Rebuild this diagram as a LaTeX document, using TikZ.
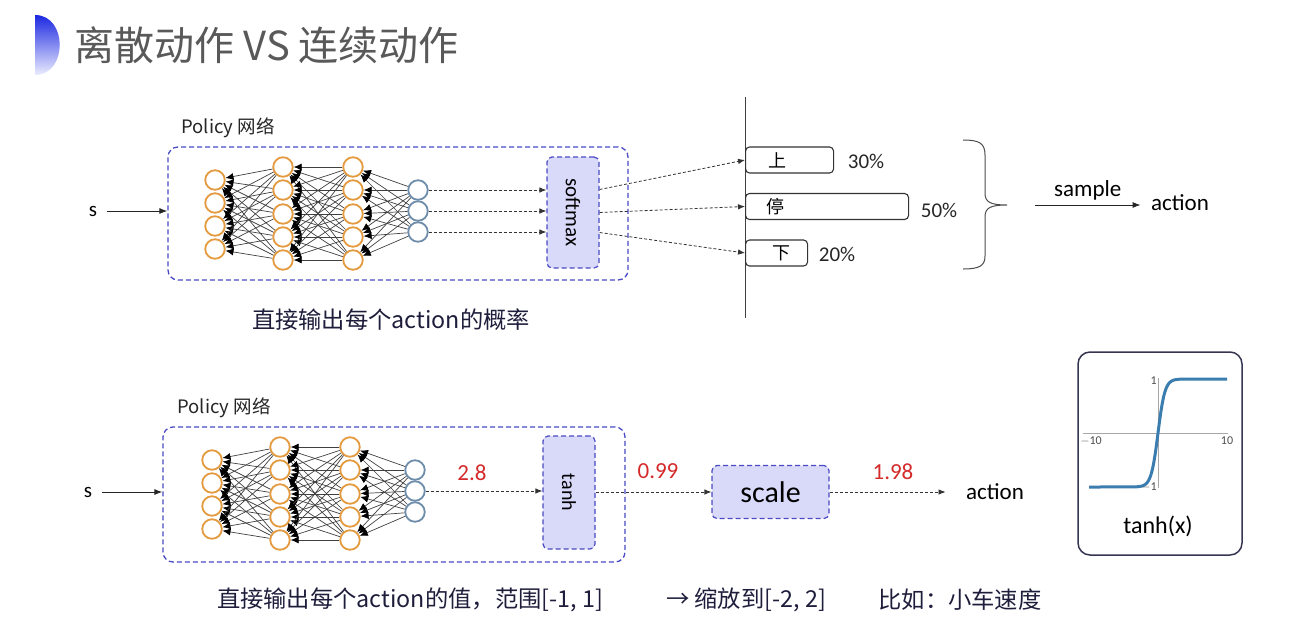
\documentclass[tikz,border=0pt]{standalone}
\usepackage{fontspec}
\setmainfont{Carlito}
\newfontfamily\cjk{Noto Sans CJK SC}
\usetikzlibrary{arrows.meta}
\definecolor{onode}{HTML}{E49A3E}
\definecolor{bnode}{HTML}{6E8DAB}
\definecolor{dashblue}{HTML}{4A4AC4}
\definecolor{lav}{HTML}{D9D9FA}
\definecolor{redval}{HTML}{D42A2A}
\definecolor{navy}{HTML}{1E1E3C}
\definecolor{tcurve}{HTML}{3A7DAE}
\newcommand\mynet{%
  \foreach \i/\y in {1/180,2/203,3/226,4/249} \node[onodest] (a\i) at (215,\y) {};
  \foreach \i/\y in {1/167,2/190,3/214,4/237,5/260} {
    \node[onodest] (b\i) at (283,\y) {};
    \node[onodest] (c\i) at (353,\y) {};
  }
  \foreach \i/\y in {1/190,2/211,3/232} \node[bnodest] (d\i) at (418,\y) {};
  \foreach \i in {1,...,4} \foreach \j in {1,...,5} \draw[netedge] (b\j) -- (a\i);
  \foreach \i in {1,...,5} \foreach \j in {1,...,5} \draw[netedge] (c\j) -- (b\i);
  \foreach \i in {1,...,5} \foreach \j in {1,...,3} \draw[netedge] (d\j) -- (c\i);
}
\begin{document}
\begin{tikzpicture}[x=1pt,y=-1pt,
  onodest/.style={circle,draw=onode,line width=1.8pt,fill=white,minimum size=19.5pt,inner sep=0pt},
  bnodest/.style={circle,draw=bnode,line width=1.8pt,fill=white,minimum size=19.5pt,inner sep=0pt},
  netedge/.style={draw=black!75,line width=0.7pt,-{Latex[length=8pt,width=7pt,black]}},
  dbox/.style={draw=dashblue,dash pattern=on 5pt off 3pt,line width=1.3pt,rounded corners=10pt,inner sep=0pt},
  sbox/.style={draw=dashblue,dash pattern=on 5pt off 3pt,line width=1.2pt,rounded corners=5pt,fill=lav,inner sep=0pt},
  darr/.style={draw=black!80,line width=0.8pt,densely dashed,-{Latex[length=7pt,width=5.5pt]}},
  sarr/.style={draw=black!85,line width=0.9pt,-{Latex[length=8pt,width=6pt]}},
  barbox/.style={draw=black!80,line width=1.1pt,rounded corners=4pt,inner sep=0pt,anchor=west,minimum height=26pt},
  captxt/.style={font=\cjk\fontsize{23.3}{26}\selectfont,text=navy},
  lattxt/.style={font=\fontsize{23}{26}\selectfont},
  pcttxt/.style={font=\fontsize{21}{24}\selectfont,text=black!85},
  redtxt/.style={font=\fontsize{23}{26}\selectfont,text=redval},
  poltxt/.style={font=\cjk\fontsize{18.5}{22}\selectfont,text=black!85},
  ticktxt/.style={font=\fontsize{12}{13}\selectfont,text=black!70}
]
\useasboundingbox (0,0) rectangle (1305,643);

% title
\shade[top color={rgb,255:red,28;green,40;blue,225},bottom color={rgb,255:red,235;green,236;blue,255}]
  (35,15) .. controls (68,15) and (68,75) .. (35,75) -- cycle;
\node[anchor=west,font=\cjk\fontsize{40}{44}\selectfont,text=black!65] (title) at (71,45) {离散动作 VS 连续动作};

% ===== top part =====
\node[poltxt] (pol1) at (228,128) {Policy 网络};
\node[dbox,minimum width=460pt,minimum height=133pt] (box1) at (398,213.5) {};
\begin{scope}[name prefix=t-]
\mynet
\end{scope}
\node[font=\fontsize{21}{24}\selectfont] (s1) at (93,211) {s};
\draw[sarr,shorten <=6pt] (s1) -- (s1 -| box1.west);
\node[sbox,minimum width=52pt,minimum height=111pt] (soft) at (573,212.5) {\rotatebox{-90}{\fontsize{21}{22}\selectfont softmax}};
\foreach \i in {1,2,3} \draw[darr] (t-d\i) -- (t-d\i -| soft.west);

\coordinate (vtop) at (745,97);
\coordinate (vbot) at (745,318);
\draw[black!75,line width=1pt] (vtop) -- (vbot);

\node[barbox,minimum width=88pt] (up) at (745,160) {};
\node[barbox,minimum width=163pt] (stop) at (745,206.5) {};
\node[barbox,minimum width=62pt] (down) at (745,253) {};
\node[font=\cjk\fontsize{18}{20}\selectfont] (tup) at (777,160) {上};
\node[font=\cjk\fontsize{18}{20}\selectfont] (tstop) at (775,206.5) {停};
\node[font=\cjk\fontsize{18}{20}\selectfont] (tdown) at (781,253) {下};
\node[pcttxt] (p1) at (866,161) {30\%};
\node[pcttxt] (p2) at (939,210) {50\%};
\node[pcttxt] (p3) at (837,254) {20\%};

\draw[darr] ([yshift=23pt]soft.east) -- (up.west);
\draw[darr] (soft.east) -- (stop.west);
\draw[darr] ([yshift=-20pt]soft.east) -- (down.west);

\coordinate (bt) at (1007,205);
\draw[black!70,line width=1pt] (963,140) .. controls (979,140) and (985,143) .. (985,155) -- (985,193)
  .. controls (985,202) and (990,205) .. (bt)
  .. controls (990,205) and (985,208) .. (985,217) -- (985,256)
  .. controls (985,266) and (979,269) .. (963,269);
\node[lattxt] (act1) at (1180,203) {action};
\draw[sarr] ([xshift=28pt]bt) -- ([xshift=-7pt]act1.west |- bt) node[midway,above=1pt,lattxt] (samp) {sample};

\node[captxt] (cap1) at (391,320) {直接输出每个action的概率};

% ===== bottom part =====
\node[poltxt] (pol2) at (224,408) {Policy 网络};
\node[dbox,minimum width=462pt,minimum height=135pt] (box2) at (394,494.5) {};
\begin{scope}[name prefix=b-,shift={(-3,280)}]
\mynet
\end{scope}
\node[font=\fontsize{21}{24}\selectfont] (s2) at (88,492) {s};
\draw[sarr,shorten <=6pt] (s2) -- (s2 -| box2.west);
\node[sbox,minimum width=52pt,minimum height=113pt] (tanh) at (569,492.5) {\rotatebox{-90}{\fontsize{20}{22}\selectfont tanh}};
\node[sbox,minimum width=117pt,minimum height=53pt] (scale) at (770.5,492) {\fontsize{30}{32}\selectfont scale};
\node[lattxt] (act2) at (995,492) {action};
\draw[darr] (b-d2) -- (b-d2 -| tanh.west);
\draw[darr] (tanh.east |- scale) -- (scale.west);
\draw[darr] (scale.east) -- ([xshift=-17pt]act2.west |- scale);
\node[redtxt] (v1) at (472,473) {2.8};
\node[redtxt] (v2) at (658,471) {0.99};
\node[redtxt] (v3) at (893,472) {1.98};

\node[captxt] (cap2) at (410,600) {直接输出每个action的值，范围[-1, 1]};
\node[captxt] (cap3) at (746,600) {→ 缩放到[-2, 2]};
\node[captxt] (cap4) at (960,600) {比如：小车速度};

% tanh panel
\node[draw=navy!90,line width=1.5pt,rounded corners=12pt,minimum width=164pt,minimum height=203pt,inner sep=0pt] (panel) at (1160,453.5) {};
\coordinate (xl) at (1083,433);
\coordinate (xr) at (1228,433);
\coordinate (yt) at (1158,378);
\coordinate (yb) at (1158,488);
\draw[black!35,line width=0.6pt] (xl) -- (xr);
\draw[black!35,line width=0.6pt] (yt) -- (yb);
\coordinate (cl) at (1089,487);
\coordinate (cr) at (1227,379);
\draw[tcurve,line width=3pt,line join=round] (cl) -- plot[domain=-4:4,samples=81,smooth] ({1158+6.9*\x},{433-54*tanh(\x)}) -- (cr);
\node[ticktxt,anchor=east,inner sep=1pt] (l1) at (1158,381) {1};
\node[ticktxt,anchor=east,inner sep=1pt] (lm1) at (1158,487) {$-$1};
\node[ticktxt] (lm10) at (1091,441) {$-$10};
\node[ticktxt] (l10) at (1227,441) {10};
\node[font=\fontsize{24}{26}\selectfont] (tx) at (1158,526) {tanh(x)};
\end{tikzpicture}
\end{document}
